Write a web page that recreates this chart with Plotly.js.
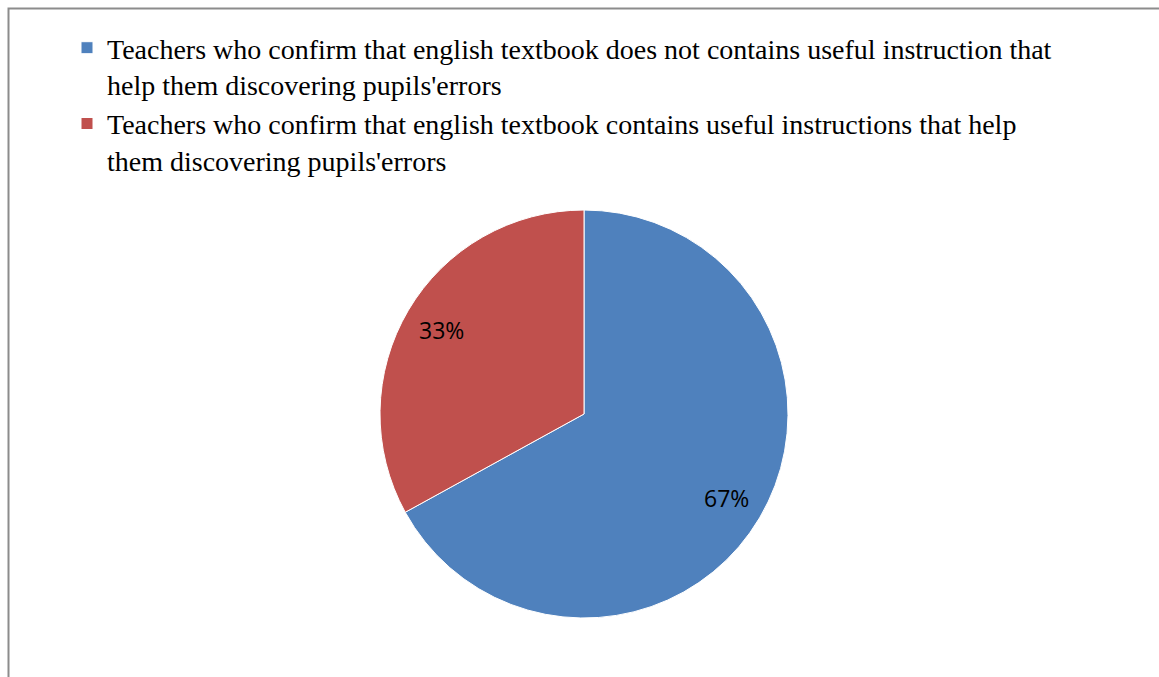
<!DOCTYPE html>
<html>
<head>
<meta charset="utf-8">
<script src="https://cdn.plot.ly/plotly-3.0.1.min.js"></script>
<style>
html,body{margin:0;padding:0;background:#fff;}
#chart{width:1159px;height:677px;}
</style>
</head>
<body>
<div id="chart"></div>
<script>
const categories = [
  "Teachers who confirm that english textbook does not contains useful instruction that<br>help them discovering pupils'errors",
  "Teachers who confirm that english textbook contains useful instructions that help<br>them discovering pupils'errors"
];
const values = [67, 33];
const colors = ["#4F81BD", "#C0504D"];

const W = 1159, H = 677;
const cx = 584, cy = 414, r = 204;

const trace = {
  type: "pie",
  labels: categories,
  values: values,
  sort: false,
  direction: "clockwise",
  rotation: 0,
  marker: {colors: colors, line: {color: "#ffffff", width: 1}},
  textinfo: "none",
  hoverinfo: "none",
  domain: {x: [(cx - r) / W, (cx + r) / W], y: [(H - cy - r) / H, (H - cy + r) / H]}
};

// percent labels placed at ~0.8 of the radius along each slice's mid-angle
const total = values.reduce((a, b) => a + b, 0);
let cum = 0;
const annotations = values.map(v => {
  const mid = (cum + v / 2) / total * 2 * Math.PI; // clockwise from 12 o'clock
  cum += v;
  const px = cx + 0.81 * r * Math.sin(mid);
  const py = cy - 0.81 * r * Math.cos(mid);
  return {
    xref: "paper", yref: "paper", x: px / W, y: 1 - py / H,
    xanchor: "center", yanchor: "middle", showarrow: false,
    text: Math.round(v / total * 100) + "%",
    font: {family: "Open Sans, sans-serif", size: 23, color: "#000000"}
  };
});

const layout = {
  width: W, height: H,
  margin: {l: 0, r: 0, t: 0, b: 0},
  paper_bgcolor: "#ffffff",
  showlegend: true,
  legend: {
    x: 67 / W, y: 1 - 23 / H, xanchor: "left", yanchor: "top",
    valign: "top",
    font: {family: "Liberation Serif, Times New Roman, serif", size: 28, color: "#000000"},
    bgcolor: "rgba(0,0,0,0)"
  },
  annotations: annotations,
  shapes: [{
    type: "rect", xref: "paper", yref: "paper",
    x0: 8.5 / W, x1: 1.02, y0: -0.02, y1: 1 - 8.5 / H,
    line: {color: "#8c8c8c", width: 2}, fillcolor: "rgba(0,0,0,0)", layer: "below"
  }]
};

Plotly.newPlot("chart", [trace], layout, {staticPlot: true});
</script>
</body>
</html>
